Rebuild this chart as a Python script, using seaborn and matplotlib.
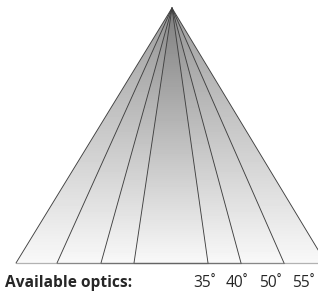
import numpy as np
import pandas as pd
import matplotlib.pyplot as plt
import seaborn as sns

# optics (beam angles) and how far each edge reaches at the base (px)
optics = [35, 40, 50, 55]
left_spread = [38, 71, 115, 156]
right_spread = [36, 69, 112, 154]

W, H = 318, 292
apex_x, apex_y, base_y = 172, 8, 263

sns.set_style("white")
plt.rcParams['font.family'] = ['Open Sans', 'DejaVu Sans']

fig = plt.figure(figsize=(W / 100, H / 100), dpi=100)
ax = fig.add_axes([0, 0, 1, 1])

# shading: each cone darkens a bit more, fading toward the base
xs = np.arange(W) + 0.5
ys = np.arange(H) + 0.5
X, Y = np.meshgrid(xs, ys)
t = (Y - apex_y) / (base_y - apex_y)
count = np.zeros_like(X)
for l, r in zip(left_spread, right_spread):
    inside = (t >= 0) & (t <= 1) & (X >= apex_x - l * t) & (X <= apex_x + r * t)
    count += inside
dark = np.where(count > 0, 0.025 + (1 - t) * (0.36 + 0.04 * (count - 1)), 0)
ax.imshow(1 - dark, cmap="gray", vmin=0, vmax=1, extent=(0, W, H, 0),
          interpolation="bilinear", aspect="auto")

# cone edges
rows = []
for o, l, r in zip(optics, left_spread, right_spread):
    rows += [(f"{o}L", apex_x, apex_y), (f"{o}L", apex_x - l, base_y)]
    rows += [(f"{o}R", apex_x, apex_y), (f"{o}R", apex_x + r, base_y)]
edges = pd.DataFrame(rows, columns=["edge", "x", "y"])
sns.lineplot(data=edges, x="x", y="y", units="edge", estimator=None, sort=False,
             color="#404040", lw=0.65, ax=ax)

# base of each cone
for l, r in zip(left_spread, right_spread):
    ax.plot([apex_x - l, apex_x + r], [base_y, base_y], color="#555555", lw=0.9, alpha=0.45)

ax.text(5, 287, "Available optics:", fontsize=11.2, fontweight="bold", va="baseline", ha="left")
for i, o in enumerate(optics):
    ax.text(193 + 33 * i, 287, f"{o}˚", fontsize=11.2, va="baseline", ha="left")

ax.set_xlim(0, W)
ax.set_ylim(H, 0)
ax.axis("off")
fig.savefig("out.png", dpi=100)
